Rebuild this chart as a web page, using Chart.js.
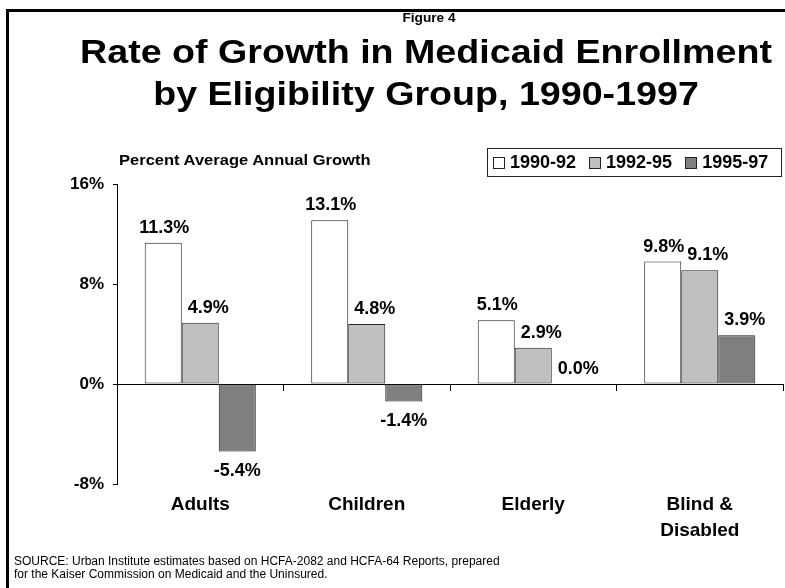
<!DOCTYPE html>
<html lang="en">
<head>
    <meta charset="UTF-8">
    <title>Rate of Growth in Medicaid Enrollment</title>
    <script src="https://cdn.jsdelivr.net/npm/chart.js"></script>
    <style>
        body {
            margin: 0;
            width: 785px;
            height: 588px;
            position: relative;
            overflow: hidden;
            background: #fff;
            font-family: 'Liberation Sans', Arial, sans-serif;
            color: #000;
        }
        #frame {
            position: absolute;
            left: 6px;
            top: 9px;
            width: 800px;
            height: 600px;
            border-left: 3px solid #000;
            border-top: 3px solid #000;
        }
        canvas {
            position: absolute;
            left: 0;
            top: 0;
        }
        .txt {
            position: absolute;
            white-space: nowrap;
        }
        #fig {
            left: 429px;
            top: 11px;
            font-size: 12px;
            line-height: 14px;
            font-weight: bold;
            transform: translateX(-50%) scaleX(1.14);
        }
        #title {
            left: 426px;
            top: 31px;
            font-size: 33px;
            line-height: 42px;
            font-weight: bold;
            text-align: center;
            transform: translateX(-50%) scaleX(1.14);
        }
        #ylabel {
            left: 119px;
            top: 152px;
            font-size: 14px;
            line-height: 16px;
            font-weight: bold;
            transform-origin: left top;
            transform: scaleX(1.18);
        }
        #legend {
            position: absolute;
            left: 487px;
            top: 148px;
            width: 288px;
            height: 27px;
            border: 1px solid #222;
            display: flex;
            align-items: center;
            padding-left: 5px;
            box-sizing: content-box;
        }
        #legend .item {
            display: flex;
            align-items: center;
            flex-shrink: 0;
            white-space: nowrap;
            margin-right: 13px;
            font-size: 18px;
            font-weight: bold;
        }
        #legend .box {
            width: 10px;
            height: 10px;
            border: 1px solid #222;
            margin-right: 5px;
        }
        #source {
            left: 14px;
            top: 555px;
            font-size: 12px;
            line-height: 13px;
        }
    </style>
</head>
<body>
    <div id="frame"></div>
    <canvas id="growthChart" width="785" height="588"></canvas>
    <div class="txt" id="fig">Figure 4</div>
    <div class="txt" id="title">Rate of Growth in Medicaid Enrollment<br>by Eligibility Group, 1990-1997</div>
    <div class="txt" id="ylabel">Percent Average Annual Growth</div>
    <div id="legend"></div>
    <div class="txt" id="source">SOURCE: Urban Institute estimates based on HCFA-2082 and HCFA-64 Reports, prepared<br>for the Kaiser Commission on Medicaid and the Uninsured.</div>

    <script>
        const groups = ['Adults', 'Children', 'Elderly', ['Blind &', 'Disabled']];
        const periods = ['1990-92', '1992-95', '1995-97'];
        const growth1990to92 = [11.3, 13.1, 5.1, 9.8];
        const growth1992to95 = [4.9, 4.8, 2.9, 9.1];
        const growth1995to97 = [-5.4, -1.4, 0.0, 3.9];
        const yTicks = [-8, 0, 8, 16];

        const fills = ['#ffffff', '#c0c0c0', '#7f7f7f'];
        const outline = '#222222';
        const font = "'Liberation Sans', Arial, sans-serif";

        // numbers printed above (or below) each bar
        const valueLabels = {
            id: 'valueLabels',
            afterDatasetsDraw(chart, args, opts) {
                const ctx = chart.ctx;
                ctx.save();
                ctx.font = 'bold 18px ' + font;
                ctx.fillStyle = '#000';
                ctx.textAlign = 'center';
                ctx.textBaseline = 'alphabetic';
                chart.data.datasets.forEach((ds, i) => {
                    chart.getDatasetMeta(i).data.forEach((bar, j) => {
                        const v = ds.data[j];
                        const text = v.toFixed(1) + '%';
                        if (v < 0) {
                            ctx.fillText(text, bar.x + opts.shiftNeg[i], bar.y + 24);
                        } else {
                            ctx.fillText(text, bar.x + opts.shift[i], bar.y - 10);
                        }
                    });
                });
                ctx.restore();
            }
        };

        const seriesData = [growth1990to92, growth1992to95, growth1995to97];

        const chart = new Chart(document.getElementById('growthChart'), {
            type: 'bar',
            data: {
                labels: groups,
                datasets: periods.map((p, i) => ({
                    label: p,
                    data: seriesData[i],
                    backgroundColor: fills[i],
                    borderColor: outline,
                    borderWidth: 1,
                    borderSkipped: false,
                    categoryPercentage: 0.667,
                    barPercentage: 1.0
                }))
            },
            options: {
                responsive: false,
                animation: false,
                layout: {
                    padding: { left: 0, top: 184, right: 2, bottom: 34 }
                },
                plugins: {
                    legend: { display: false },
                    tooltip: { enabled: false },
                    valueLabels: {
                        shift: [1, 8, 8],
                        shiftNeg: [0, 0, 0]
                    }
                },
                scales: {
                    x: {
                        position: 'bottom',
                        grid: { display: false, drawTicks: false },
                        border: { display: false },
                        ticks: {
                            color: '#000',
                            padding: 7,
                            maxRotation: 0,
                            autoSkip: false,
                            font: { family: font, size: 19, weight: 'bold', lineHeight: 1.4 }
                        },
                        afterFit: s => { s.height = 70; }
                    },
                    x0: {
                        type: 'category',
                        position: { y: 0 },
                        grid: {
                            offset: true,
                            drawOnChartArea: false,
                            tickLength: 6,
                            color: '#000'
                        },
                        border: { color: '#000', width: 1 },
                        ticks: { display: false }
                    },
                    y: {
                        min: -8,
                        max: 16,
                        afterBuildTicks: s => { s.ticks = yTicks.map(v => ({ value: v })); },
                        grid: {
                            drawOnChartArea: false,
                            tickLength: 4,
                            color: '#000'
                        },
                        border: { color: '#000', width: 1 },
                        ticks: {
                            color: '#000',
                            padding: 9,
                            font: { family: font, size: 17, weight: 'bold' },
                            callback: v => v + '%'
                        },
                        afterFit: s => { s.width = 117; }
                    }
                }
            },
            plugins: [valueLabels]
        });

        // legend built from the datasets
        const legend = document.getElementById('legend');
        chart.data.datasets.forEach(ds => {
            const item = document.createElement('div');
            item.className = 'item';
            const box = document.createElement('span');
            box.className = 'box';
            box.style.background = ds.backgroundColor;
            item.appendChild(box);
            item.appendChild(document.createTextNode(ds.label));
            legend.appendChild(item);
        });
    </script>
</body>
</html>
